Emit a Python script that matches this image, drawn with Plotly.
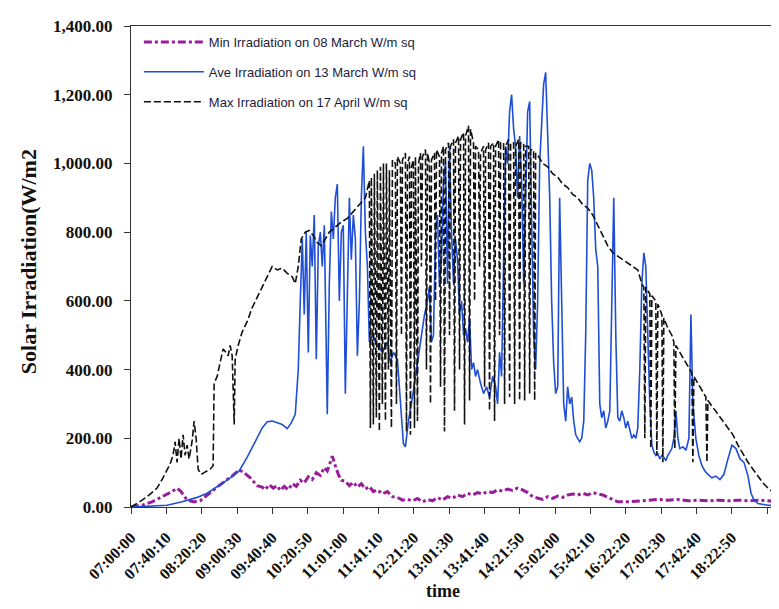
import plotly.graph_objects as go

# time axis: minutes after 07:00:00
tick_labels = ["07:00:00", "07:40:10", "08:20:20", "09:00:30", "09:40:40", "10:20:50",
               "11:01:00", "11:41:10", "12:21:20", "13:01:30", "13:41:40", "14:21:50",
               "15:02:00", "15:42:10", "16:22:20", "17:02:30", "17:42:40", "18:22:50", ""]
tick_minutes = [k * 2410 / 60 for k in range(len(tick_labels))]

# Min Irradiation on 08 March (W/m sq)
min_t = [0, 12.5, 23.9, 35.3, 46.7, 52.4, 56.9, 63.8, 71.7, 78.5, 86.5, 97.9, 109.3, 115.0, 123.0,
         128.6, 135.5, 143.4, 149.1, 152.5, 157.1, 161.7, 166.2, 169.6, 174.2, 178.7, 183.3, 187.8,
         192.4, 196.9, 201.5, 206.0, 210.6, 215.2, 219.7, 223.1, 226.5, 228.8, 232.2, 235.6, 239.1,
         243.6, 248.2, 252.7, 257.3, 261.8, 266.4, 270.9, 275.5, 280.0, 285.7, 291.4, 297.1, 302.8,
         308.5, 314.2, 319.9, 325.6, 331.3, 337.0, 342.7, 348.4, 354.0, 359.7, 365.4, 371.1, 376.8,
         382.5, 388.2, 393.9, 399.6, 405.3, 411.0, 416.7, 422.3, 428.0, 433.7, 439.4, 445.1, 450.8,
         456.5, 462.2, 467.9, 473.6, 479.3, 485.0, 490.6, 496.3, 502.0, 507.7, 513.4, 519.1, 524.8,
         530.5, 536.2, 541.9, 547.6, 553.3, 564.6, 576.0, 587.4, 598.8, 610.2, 621.6, 633.0, 644.3,
         655.7, 667.1, 678.5, 689.9, 701.3, 712.6, 724.0, 735.4, 745.6]
min_v = [0, 5, 15, 30, 45, 55, 45, 20, 15, 18, 35, 58, 80, 90, 108,
         100, 85, 62, 58, 50, 65, 55, 62, 48, 60, 50, 68, 60,
         78, 70, 88, 80, 100, 92, 115, 105, 130, 148, 120, 95, 78,
         75, 62, 72, 58, 68, 52, 60, 45, 50, 38, 45, 30, 28,
         20, 22, 18, 25, 15, 22, 18, 28, 20, 30, 25, 35, 30,
         40, 35, 42, 38, 45, 42, 50, 46, 52, 48, 55, 50, 42,
         30, 25, 22, 30, 25, 32, 28, 35, 38, 35, 40, 35, 42,
         38, 35, 28, 22, 15, 15, 18, 20, 22, 20, 22, 18, 20,
         18, 20, 18, 20, 18, 20, 18, 15, 15]

# Ave Irradiation on 13 March (W/m sq)
ave_t = [0, 18.2, 41.0, 58.1, 75.1, 86.5, 97.9, 109.3, 123.0, 132.1, 141.2, 149.1, 154.8, 160.5,
         166.2, 171.9, 177.6, 182.1, 186.7, 190.1, 192.4, 194.7, 196.9, 199.2, 201.5, 203.8, 206.0,
         208.3, 210.6, 212.9, 215.2, 217.4, 219.7, 222.0, 223.1, 225.4, 227.7, 230.0, 232.2, 234.5,
         236.8, 239.1, 241.3, 243.6, 245.9, 248.2, 250.4, 252.7, 255.0, 257.3, 259.6, 261.8, 264.1,
         266.4, 268.7, 270.9, 274.4, 280.0, 285.7, 291.4, 294.8, 298.3, 302.8, 306.2, 309.6, 311.9,
         315.3, 319.9, 324.4, 329.0, 333.6, 337.0, 339.2, 341.5, 343.8, 346.1, 348.4, 350.6, 352.9,
         355.2, 357.5, 359.7, 362.0, 364.3, 366.6, 368.8, 371.1, 373.4, 375.7, 378.0, 380.2, 382.5,
         384.8, 387.1, 389.3, 391.6, 393.9, 397.3, 400.7, 404.1, 407.5, 411.0, 414.4, 416.7, 418.9,
         421.2, 423.5, 425.8, 428.0, 430.3, 432.6, 434.9, 437.1, 439.4, 441.7, 444.0, 446.3, 448.5,
         450.8, 453.1, 455.4, 457.6, 459.9, 462.2, 464.5, 466.7, 469.0, 471.3, 473.6, 475.9, 478.1,
         480.4, 482.7, 485.0, 487.2, 489.5, 491.8, 494.1, 496.3, 498.6, 500.9, 503.2, 505.5, 507.7,
         510.0, 512.3, 514.6, 516.8, 519.1, 521.4, 523.7, 525.9, 528.2, 530.5, 532.8, 535.0, 537.3,
         539.6, 541.9, 544.2, 546.4, 548.7, 551.0, 553.3, 555.5, 557.8, 560.1, 562.4, 564.6, 566.9,
         569.2, 571.5, 573.8, 576.0, 578.3, 580.6, 582.9, 585.1, 587.4, 589.7, 592.0, 594.2, 596.5,
         598.8, 601.1, 603.4, 605.6, 607.9, 610.2, 612.5, 614.7, 617.0, 619.3, 621.6, 623.8, 627.3,
         630.7, 634.1, 636.4, 638.6, 642.0, 645.4, 648.9, 652.3, 655.7, 660.3, 664.8, 669.4, 673.9,
         678.5, 683.0, 687.6, 692.2, 696.7, 701.3, 704.7, 708.1, 712.6, 724.0, 745.6]
ave_v = [0, 2, 5, 15, 28, 40, 58, 78, 105, 145, 190, 230, 248, 250,
         245, 240, 228, 245, 270, 400, 600, 780, 560, 800, 450, 790, 700,
         850, 430, 760, 800, 700, 820, 400, 270, 650, 860, 780, 900, 940,
         600, 800, 820, 330, 600, 900, 720, 850, 780, 440, 600, 900, 1050,
         800, 700, 480, 500, 470, 450, 480, 420, 450, 430, 300, 185, 175,
         250, 320, 400, 470, 560, 600, 640, 480, 500, 800, 850, 640, 720,
         950, 1000, 650, 1050, 800, 650, 780, 720, 560, 600, 500, 520, 480,
         550, 400, 420, 380, 400, 360, 330, 350, 320, 380, 350, 300, 450,
         380, 700, 1050, 1000, 1150, 1200, 1100, 1050, 900, 1080, 950, 650, 900,
         1150, 1180, 800, 500, 400, 600, 1000, 1100, 1230, 1265, 1100, 900, 600,
         420, 330, 350, 900, 600, 300, 250, 350, 300, 320, 250, 210, 200,
         190, 200, 250, 500, 950, 1000, 980, 900, 750, 700, 300, 260, 280,
         230, 250, 280, 600, 900, 500, 260, 250, 280, 260, 230, 250, 220,
         200, 210, 200, 230, 400, 650, 740, 700, 500, 300, 180, 160, 150,
         155, 140, 150, 145, 135, 150, 160, 170, 200, 280, 200, 170, 175,
         165, 200, 560, 300, 200, 150, 120, 105, 95, 85, 90, 80, 95,
         140, 180, 170, 140, 130, 90, 40, 20, 10, 5, 3]

# Max Irradiation on 17 April (W/m sq)
max_t = [0, 6.8, 18.2, 29.6, 35.3, 41.0, 44.4, 47.8, 50.1, 52.4, 54.6, 56.9, 59.2, 61.5, 63.8,
         66.0, 69.4, 71.7, 74.0, 76.3, 79.7, 83.1, 86.5, 89.9, 93.3, 94.5, 97.9, 101.3, 104.7,
         108.1, 110.4, 112.7, 115.0, 117.3, 118.4, 121.8, 126.4, 132.1, 137.7, 143.4, 149.1, 154.8,
         160.5, 166.2, 171.9, 177.6, 183.3, 186.7, 190.1, 193.5, 198.1, 202.6, 207.2, 211.7, 216.3,
         220.8, 225.4, 232.2, 239.1, 245.9, 252.7, 259.6, 266.4, 270.9,
         272.1, 273.2, 275.5, 276.6, 278.9, 280.0, 282.3, 283.5, 285.7, 286.9, 289.2, 290.3, 292.6,
         293.7, 296.0, 297.1, 300.5, 301.7, 302.8, 306.2, 307.4, 308.5, 311.9, 313.1, 314.2, 316.5,
         317.6, 318.8, 321.0, 322.2, 323.3, 325.6, 326.7, 329.0, 330.1, 331.3, 334.7, 335.8, 337.0,
         339.2, 340.4, 341.5, 344.9, 346.1, 347.2, 350.6, 351.8, 352.9, 355.2, 356.3, 357.5, 360.9,
         362.0, 363.1, 366.6, 367.7, 368.8, 372.3, 373.4, 374.5, 378.0, 379.1, 380.2, 383.6, 384.8,
         385.9, 389.3, 390.5, 391.6, 395.0, 396.2, 397.3, 400.7, 401.9, 403.0, 406.4, 407.5, 408.7,
         412.1, 413.2, 414.4, 417.8, 418.9, 420.1, 423.5, 424.6, 425.8, 429.2, 430.3, 431.5, 434.9,
         436.0, 437.1, 440.6, 441.7, 442.8, 446.3, 447.4, 448.5, 452.0, 453.1, 454.2, 457.6, 458.8,
         459.9, 463.3,
         467.9, 473.6, 479.3, 485.0, 490.6, 496.3, 502.0, 507.7, 513.4, 519.1, 524.8, 530.5, 536.2,
         541.9, 547.6, 553.3, 559.0, 564.6, 570.3, 576.0, 580.6, 582.9, 584.0, 585.1, 589.7, 590.8,
         592.0, 596.5, 597.7, 598.8, 603.4, 604.5, 605.6, 610.2, 614.7, 617.0, 618.1, 619.3, 623.8,
         628.4, 633.0, 637.5, 638.6, 639.8, 644.3, 648.9, 653.4, 654.6, 655.7, 661.4, 667.1, 672.8,
         678.5, 684.2, 689.9, 695.5, 701.3, 706.9, 712.6, 718.3, 724.0, 729.7, 735.4, 745.6]
max_v = [0, 10, 30, 55, 80, 110, 125, 150, 190, 130, 200, 140, 210, 150, 180,
         140, 190, 250, 200, 110, 95, 100, 105, 110, 120, 360, 380, 420, 460,
         450, 440, 470, 440, 240, 430, 470, 510, 540, 580, 610, 640, 670,
         700, 690, 695, 680, 670, 650, 700, 780, 800, 805, 790, 770, 760,
         780, 800, 815, 830, 840, 860, 880, 900, 950,
         230, 960, 240, 970, 260, 980, 220, 990, 300, 1000, 250, 1000, 400,
         980, 230, 1010, 1000, 300, 1020, 1000, 500, 1010, 1030, 220, 1000, 1020,
         210, 990, 1010, 230, 1020, 250, 1000, 1030, 700, 1020, 1040, 400, 1030,
         1000, 300, 1010, 1030, 600, 1040, 1020, 350, 1030, 1050, 220, 1040, 1060,
         500, 1050, 1070, 280, 1060, 1080, 400, 1070, 1090, 240, 1080, 1110, 310,
         1100, 1060, 600, 1050, 1040, 700, 1030, 1050, 350, 1040, 1060, 280, 1050,
         1060, 250, 1050, 1070, 500, 1060, 1060, 300, 1050, 1070, 320, 1060, 1060,
         300, 1050, 1070, 310, 1060, 1060, 310, 1050, 1050, 330, 1040, 1040, 310,
         1030, 1020,
         1000, 990, 970, 960, 940, 930, 910, 900, 880, 870, 850, 820, 790,
         760, 740, 730, 720, 710, 700, 690, 650, 640, 200, 640, 620, 170,
         615, 600, 150, 590, 560, 130, 550, 520, 500, 480, 170, 470, 450,
         430, 410, 390, 130, 380, 360, 340, 320, 130, 310, 290, 270, 250,
         230, 210, 180, 155, 130, 110, 90, 70, 55, 42, 33, 22]

fig = go.Figure()
fig.add_trace(go.Scatter(x=min_t, y=min_v, mode="lines", name="Min Irradiation on 08 March W/m sq",
                         legendgroup="a",
                         line=dict(color="#9a1c9c", width=3, dash="8px,3px,3px,3px")))
fig.add_trace(go.Scatter(x=ave_t, y=ave_v, mode="lines", name="Ave Irradiation on 13 March W/m sq",
                         legendgroup="b",
                         line=dict(color="#1f4fd6", width=1.6)))
fig.add_trace(go.Scatter(x=max_t, y=max_v, mode="lines", name="Max Irradiation on 17 April W/m sq",
                         legendgroup="c",
                         line=dict(color="#111111", width=1.6, dash="7px,3px")))

serif = "Liberation Serif, Times New Roman, serif"
fig.update_layout(
    width=779, height=609,
    margin=dict(l=123, r=0, t=18, b=110),
    paper_bgcolor="white", plot_bgcolor="white",
    showlegend=True,
    legend=dict(x=0.012, y=0.998, xanchor="left", yanchor="top",
                bgcolor="rgba(255,255,255,0)", borderwidth=0,
                font=dict(family="Liberation Sans, Arial, sans-serif", size=13, color="#1c1c40"),
                itemwidth=60, tracegroupgap=10, traceorder="grouped"),
    xaxis=dict(range=[0, 745.6], tickmode="array", tickvals=tick_minutes, ticktext=tick_labels,
               tickangle=-45, ticks="outside", ticklen=6, tickcolor="#333",
               ticklabelstandoff=8,
               showline=True, linecolor="#333", linewidth=1.2, mirror=True,
               showgrid=False, zeroline=False,
               tickfont=dict(family=serif, size=16, color="#111", weight="bold")),
    yaxis=dict(range=[0, 1400], tickmode="array", tickvals=[0, 200, 400, 600, 800, 1000, 1200, 1400],
               tickformat=",.2f", ticks="outside", ticklen=6, tickcolor="#333",
               ticklabelstandoff=8,
               showline=True, linecolor="#333", linewidth=1.2,
               showgrid=False, zeroline=False,
               tickfont=dict(family=serif, size=17, color="#111", weight="bold")),
    annotations=[
        dict(text="<b>Solar Irradiation(W/m2</b>", xref="paper", yref="paper",
             x=-0.157, y=0.509, xanchor="center", yanchor="middle", textangle=-90,
             showarrow=False, font=dict(family=serif, size=22, color="#111")),
        dict(text="<b>time</b>", xref="paper", yref="paper",
             x=0.475, y=-0.175, xanchor="center", yanchor="middle",
             showarrow=False, font=dict(family=serif, size=18, color="#111")),
    ],
)

fig.write_html("out.html")
